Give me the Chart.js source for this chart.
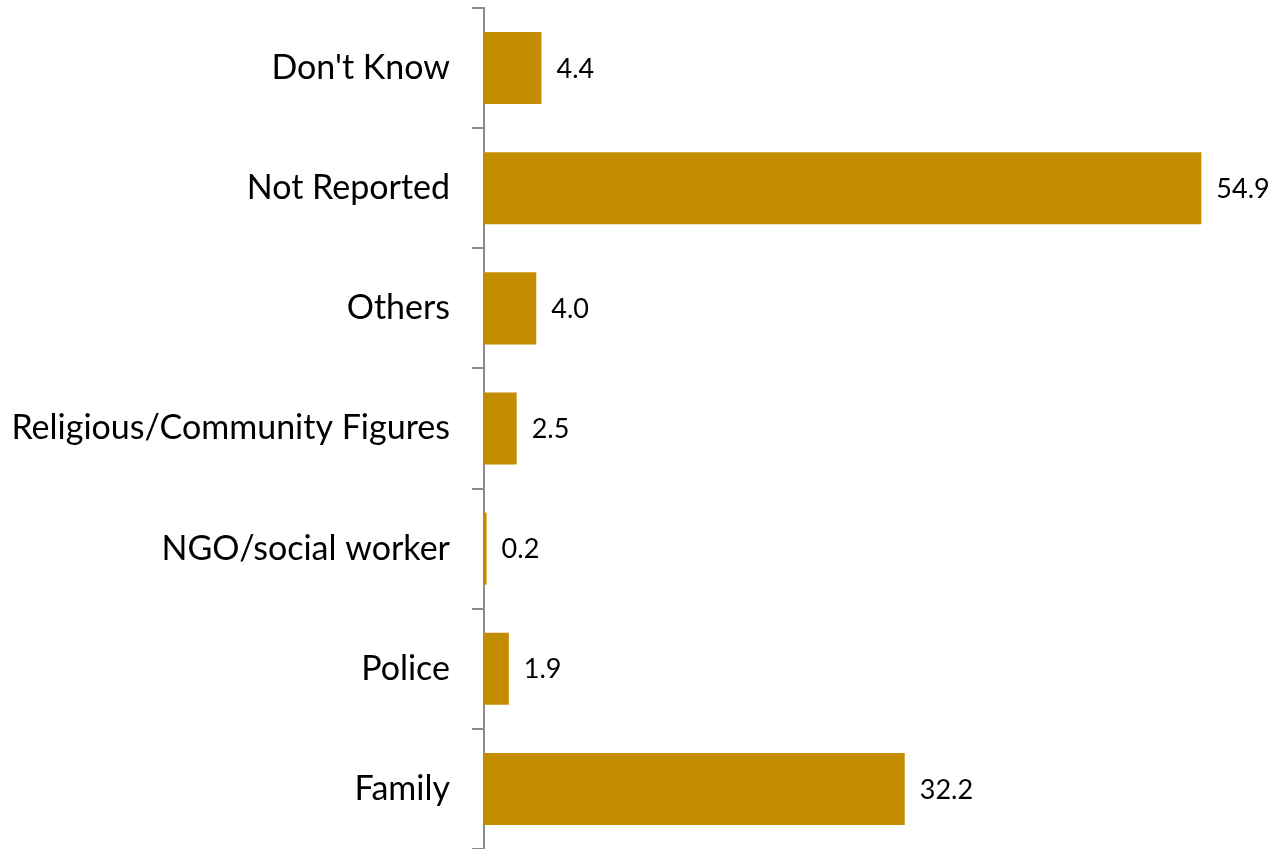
<!DOCTYPE html>
<html>
<head>
<meta charset="utf-8">
<script src="https://cdn.jsdelivr.net/npm/chart.js@4"></script>
<style>
  html, body { margin: 0; padding: 0; background: #fff; }
  #wrap { width: 1277px; height: 849px; }
</style>
</head>
<body>
<div id="wrap"><canvas id="reportChart"></canvas></div>
<script>
// --- data ---
const categories = ["Don't Know", 'Not Reported', 'Others', 'Religious/Community Figures', 'NGO/social worker', 'Police', 'Family'];
const shares = [4.4, 54.9, 4.0, 2.5, 0.2, 1.9, 32.2];

const FONT = "Lato, 'Open Sans', sans-serif";

// value labels to the right of each bar
const valueLabels = {
    id: 'valueLabels',
    afterDatasetsDraw(chart) {
        const ctx = chart.ctx;
        const meta = chart.getDatasetMeta(0);
        ctx.save();
        ctx.font = '27px ' + FONT;
        ctx.fillStyle = '#000';
        ctx.textAlign = 'left';
        ctx.textBaseline = 'middle';
        meta.data.forEach((bar, i) => {
            ctx.fillText(shares[i].toFixed(1), bar.x + 15, bar.y + 1);
        });
        ctx.restore();
    }
};

document.addEventListener('DOMContentLoaded', () => {
    const ctx = document.getElementById('reportChart');
    new Chart(ctx.getContext('2d'), {
        type: 'bar',
        data: {
            labels: categories,
            datasets: [{
                data: shares,
                backgroundColor: '#C48C00',
                categoryPercentage: 0.6,
                barPercentage: 1
            }]
        },
        plugins: [valueLabels],
        options: {
            indexAxis: 'y',
            responsive: true,
            maintainAspectRatio: false,
            animation: false,
            layout: { padding: { top: 8, right: 9, bottom: 0, left: 0 } },
            plugins: { legend: { display: false }, tooltip: { enabled: false } },
            scales: {
                x: { display: false, min: 0, max: 60 },
                y: {
                    // fixed label column, no extra room above/below for the tick labels
                    afterFit: (scale) => {
                        scale.width = 484;
                        scale.paddingTop = 0;
                        scale.paddingBottom = 0;
                    },
                    border: { color: '#8c8c8c', width: 2 },
                    grid: {
                        offset: true,
                        drawOnChartArea: false,
                        drawTicks: true,
                        tickLength: 12,
                        color: '#8c8c8c',
                        lineWidth: 2
                    },
                    ticks: {
                        color: '#000',
                        padding: 22,
                        font: { family: FONT, size: 34 }
                    }
                }
            }
        }
    });
});
</script>
</body>
</html>
